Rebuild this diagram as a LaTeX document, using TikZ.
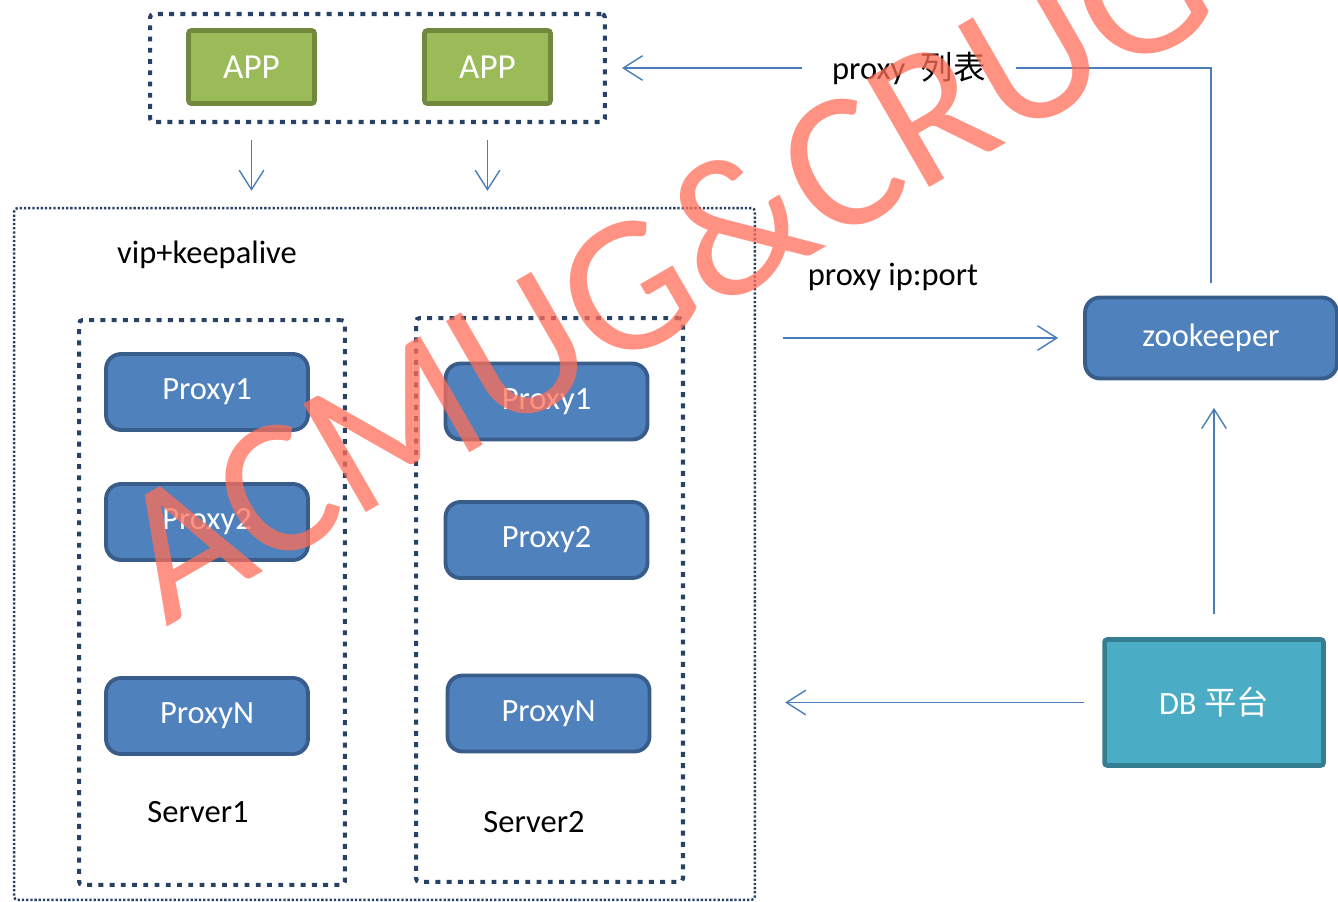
\documentclass[tikz,border=0pt]{standalone}
\usepackage{fontspec}
\setmainfont{Carlito}
\newfontfamily\cjk{Noto Sans CJK SC}
\usepackage{tikz}
\usetikzlibrary{positioning,arrows.meta}
\usepackage{xcolor}
\definecolor{dotblue}{RGB}{40,66,102}
\definecolor{appgreen}{RGB}{155,187,89}
\definecolor{appedge}{RGB}{113,137,63}
\definecolor{proxyblue}{RGB}{79,129,189}
\definecolor{proxyedge}{RGB}{56,93,138}
\definecolor{dbteal}{RGB}{75,172,198}
\definecolor{dbedge}{RGB}{53,125,145}
\definecolor{linkblue}{RGB}{74,126,187}
\definecolor{stampred}{RGB}{255,110,88}

\begin{document}
\begin{tikzpicture}[x=0.02cm, y=-0.02cm,
  appbox/.style = {draw=appedge, fill=appgreen, line width=2.6pt, rounded corners=1.5pt, minimum width=2.52cm, minimum height=1.46cm, text=white, font=\fontsize{20}{24}\selectfont},
  proxybox/.style = {draw=proxyedge, fill=proxyblue, line width=2.2pt, rounded corners=0.3cm, minimum width=4.04cm, minimum height=1.52cm, text=white},
  dbbox/.style = {draw=dbedge, fill=dbteal, line width=2.6pt, rounded corners=1.5pt, minimum width=4.38cm, minimum height=2.52cm, text=white},
  groupbox/.style = {draw=dotblue, line width=2.3pt, dash pattern=on 2.8pt off 3.6pt, rounded corners=2pt},
  clusterbox/.style = {draw=dotblue, line width=1.4pt, dash pattern=on 1.3pt off 1.1pt, rounded corners=2pt},
  link/.style = {draw=linkblue, line width=0.8pt, -{Straight Barb[length=11pt,width=14pt]}}]

\tikzset{every node/.style={font=\fontsize{18.5}{22}\selectfont}}
\useasboundingbox (0,0) rectangle (1338,902);

% Groups
\node (appgroup) [groupbox, minimum width=9.1cm, minimum height=2.16cm] at (377.5,68) {};
\node (cluster) [clusterbox, minimum width=14.82cm, minimum height=13.84cm] at (384.5,554) {};
\node (server1) [groupbox, minimum width=5.32cm, minimum height=11.3cm] at (212,602.5) {};
\node (server2) [groupbox, minimum width=5.34cm, minimum height=11.28cm] at (549.5,600) {};

% Nodes
\node (app1) [appbox] at (251.5,67) {APP};
\node (app2) [appbox] at (487.5,67) {APP};
\node (vip) at (207,255) {vip+keepalive};
\node (s1proxy1) [proxybox] at (207,392) {Proxy1};
\node (s1proxy2) [proxybox] at (207,522) {Proxy2};
\node (s1proxyn) [proxybox] at (207,716) {ProxyN};
\node (s1label) at (198,812) {Server1};
\node (s2proxy1) [proxybox] at (546.5,401.5) {Proxy1};
\node (s2proxy2) [proxybox] at (546.5,540) {Proxy2};
\node (s2proxyn) [proxybox] at (548.5,713.5) {ProxyN};
\node (s2label) at (534,822) {Server2};
\node (zk) [proxybox, minimum width=5.04cm, minimum height=1.62cm] at (1211,338) {zookeeper};
\node (db) [dbbox] at (1214,702.5) {DB {\cjk 平台}};
\node (iplabel) at (893,277) {proxy ip:port};

% Arrows
\draw [link, shorten <=0.32cm, shorten >=0.32cm] (app1 |- appgroup.south) -- (app1 |- cluster.north);
\draw [link, shorten <=0.32cm, shorten >=0.32cm] (app2 |- appgroup.south) -- (app2 |- cluster.north);
\draw [link, shorten <=0.26cm, shorten >=0.3cm] (zk.north) |- (appgroup.east)
  node [pos=0.75, fill=white, inner xsep=0.6cm] {proxy\hspace{0.25em} {\cjk 列表}};
\draw [link, shorten <=0.54cm, shorten >=0.5cm] (cluster.east |- zk.west) -- (zk.west);
\draw [link, shorten <=0.46cm, shorten >=0.55cm] (db.north) -- (db.north |- zk.south);
\draw [link, shorten <=0.36cm, shorten >=0.58cm] (db.west) -- (db.west -| cluster.east);

% Watermark
\node (stamp) [text=stampred, text opacity=0.75, rotate=30, anchor=base west, inner sep=0pt, font=\fontsize{111}{111}\selectfont] at (166,628) {ACMUG\&CRUG};
\end{tikzpicture}
\end{document}
